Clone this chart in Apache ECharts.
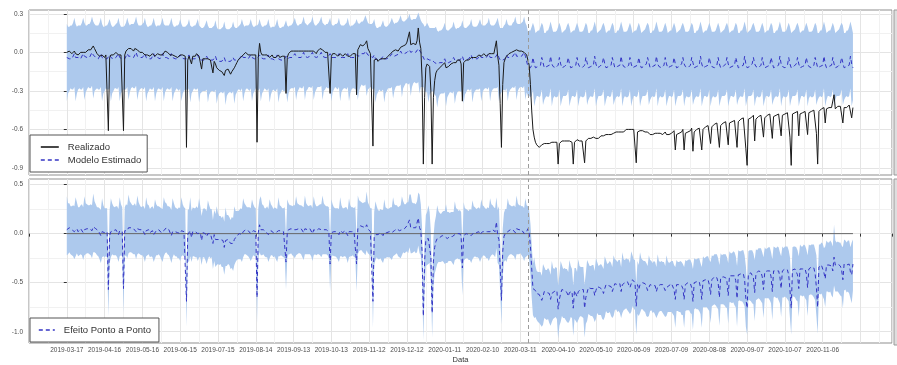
<!DOCTYPE html>
<html>
<head>
<meta charset="utf-8">
<script src="https://cdn.jsdelivr.net/npm/echarts@6/dist/echarts.min.js"></script>
<style>
  html, body { margin: 0; background: #fff; }
  #grafico { width: 897px; height: 365px; }
</style>
</head>
<body>
<div id="grafico"></div>
<script>
// dia 0 = 2019-03-17, um valor por dia; valores em centesimos
const rotulosData = ['2019-03-17', '2019-04-16', '2019-05-16', '2019-06-15', '2019-07-15', '2019-08-14',
  '2019-09-13', '2019-10-13', '2019-11-12', '2019-12-12', '2020-01-11', '2020-02-10', '2020-03-11',
  '2020-04-10', '2020-05-10', '2020-06-09', '2020-07-09', '2020-08-08', '2020-09-07', '2020-10-07', '2020-11-06']

const intervencao = 366

const realizado = [
  0, -1, 1, 0, -1, 0, 1,
  -1, 0, -2, -1, 0, 1, 0,
  1, 0, 1, 2, 1, 2, 3,
  5, 3, 1, -1, -2, -3, -3,
  -2, -3, -4, -2, -3, -61, -4,
  -2, -1, -2, -1, 0, -1, -2,
  -1, -2, -3, -61, -2, 1, 2,
  3, 2, 3, 2, 1, 3, 2,
  2, 1, 0, -1, 0, -1, -2,
  -1, -2, -1, -3, -2, -1, -2,
  -3, -2, -1, 0, -2, -3, -2,
  -1, 1, 2, 0, -1, -2, -3,
  -2, -1, -3, -2, -4, -3, -2,
  -1, -2, -3, -3, -74, -6, -3,
  -2, -9, -3, -2, -3, -1, -2,
  -3, -4, -13, -5, -4, -5, -6,
  -5, -4, -6, -5, -16, -7, -9,
  -12, -13, -14, -13, -15, -14, -18,
  -14, -15, -13, -14, -17, -15, -14,
  -12, -10, -8, -6, -5, -4, -3,
  -2, -1, 0, -1, -2, -3, -2,
  -3, -2, -3, -2, -70, -4, 7,
  0, -2, -1, -2, -3, -2, -3,
  -4, -3, -2, -4, -3, -4, -3,
  -2, -4, -3, -3, -4, -3, -32,
  -4, -1, 0, 1, 0, 1, 2,
  1, 0, 1, 2, 1, 0, 1,
  2, 1, 0, 1, 2, 1, 0,
  1, 0, -1, 1, 2, 3, 4,
  2, 1, 0, 1, 0, -1, -32,
  -3, -1, -2, -1, -2, -3, -2,
  -1, -2, -3, -2, -1, -2, -3,
  -2, -3, -2, -1, -2, -1, -33,
  2, 4, 6, 7, 5, 6, 7,
  9, 3, 1, -1, -2, -73, -6,
  -6, -5, -7, -6, -5, -6, -5,
  -4, -5, -4, -3, -2, -1, 0,
  1, 0, 2, 3, 1, 2, 4,
  3, 5, 4, 6, 8, 7, 16,
  6, 5, 7, 8, 6, 9, 19,
  8, 3, -20, -87, -35, -12, -9,
  -10, -11, -30, -87, -35, -22, -16,
  -14, -13, -12, -12, -10, -9, -8,
  -12, -13, -11, -10, -9, -10, -8,
  -7, -8, -6, -7, -6, -9, -38,
  -8, -7, -6, -5, -6, -5, -4,
  -5, -4, -3, -4, -3, -2, -3,
  -3, -2, -1, -2, -3, -2, -1,
  -2, -1, 0, -1, -2, 9, -3,
  -10, -40, -74, -25, -8, -5, -3,
  -2, -1, 0, 0, 1, 1, 1,
  2, 1, 1, 2, 1, 0, 0,
  -1, -2, -6, -10, -25, -45, -60,
  -66, -70, -72, -73, -74, -73, -72,
  -72, -71, -72, -71, -70, -71, -70,
  -70, -71, -70, -69, -70, -87, -71,
  -70, -69, -70, -69, -70, -69, -68,
  -69, -70, -70, -87, -70, -69, -68,
  -68, -69, -68, -69, -69, -86, -69,
  -68, -67, -68, -67, -67, -66, -66,
  -67, -66, -67, -66, -65, -66, -65,
  -65, -64, -65, -64, -63, -64, -63,
  -63, -63, -62, -63, -62, -61, -62,
  -61, -62, -61, -60, -61, -60, -59,
  -60, -59, -60, -61, -86, -62, -61,
  -61, -62, -61, -62, -62, -63, -62,
  -63, -64, -63, -64, -63, -63, -62,
  -63, -64, -63, -63, -64, -63, -62,
  -64, -65, -64, -63, -63, -62, -61,
  -76, -64, -63, -63, -62, -62, -60,
  -76, -63, -62, -62, -61, -61, -59,
  -77, -62, -61, -60, -60, -59, -58,
  -76, -60, -59, -58, -58, -57, -56,
  -71, -58, -57, -56, -56, -55, -54,
  -74, -57, -56, -55, -55, -54, -53,
  -72, -55, -54, -54, -53, -53, -52,
  -74, -54, -53, -52, -52, -51, -50,
  -75, -88, -52, -51, -51, -50, -49,
  -69, -52, -51, -50, -50, -49, -48,
  -66, -51, -50, -49, -49, -48, -48,
  -67, -50, -49, -49, -48, -48, -47,
  -65, -49, -49, -48, -48, -47, -46,
  -66, -88, -48, -47, -47, -47, -46,
  -65, -48, -47, -47, -46, -46, -45,
  -64, -47, -46, -46, -46, -45, -45,
  -63, -87, -46, -45, -44, -44, -43,
  -55, -44, -43, -43, -42, -43, -42,
  -33, -44, -43, -42, -43, -42, -41,
  -55, -43, -42, -43, -42, -41, -42,
  -51, -43
]

const estimado = [
  -4, -5, -5, -4, -5, -4, -1,
  -4, -5, -4, -4, -5, -4, -1,
  -3, -4, -4, -3, -4, -3, 0,
  -2, -3, -4, -4, -5, -4, -1,
  -4, -5, -5, -4, -5, -4, -2,
  -4, -5, -5, -4, -4, -4, -1,
  -4, -5, -5, -5, -5, -4, -1,
  -3, -4, -3, -3, -4, -3, 0,
  -3, -4, -4, -4, -4, -4, -1,
  -4, -5, -5, -4, -5, -4, -1,
  -4, -5, -4, -4, -5, -4, -1,
  -4, -4, -4, -4, -5, -4, -1,
  -4, -5, -5, -4, -5, -5, -2,
  -4, -5, -5, -5, -5, -5, -2,
  -5, -5, -5, -4, -5, -4, -2,
  -5, -5, -6, -6, -6, -5, -3,
  -5, -6, -6, -6, -6, -6, -3,
  -6, -7, -7, -7, -7, -7, -4,
  -7, -7, -7, -7, -7, -7, -4,
  -6, -6, -6, -5, -5, -5, -2,
  -4, -5, -4, -4, -5, -5, -2,
  -4, -5, -5, -4, -5, -5, -2,
  -4, -5, -5, -4, -5, -5, -2,
  -5, -6, -5, -5, -6, -5, -2,
  -5, -6, -6, -5, -6, -5, -3,
  -5, -5, -4, -4, -4, -3, -1,
  -3, -4, -4, -3, -4, -3, 0,
  -3, -3, -4, -3, -3, -3, 0,
  -3, -4, -4, -3, -3, -2, 0,
  -3, -3, -4, -3, -4, -3, -1,
  -4, -4, -4, -3, -4, -4, -1,
  -4, -4, -4, -4, -4, -4, -1,
  -4, -5, -4, -4, -4, -4, -2,
  -3, -3, -2, -1, -2, -1, 1,
  0, -2, -3, -3, -4, -4, -2,
  -5, -6, -6, -5, -6, -5, -3,
  -5, -5, -5, -4, -4, -3, -1,
  -2, -3, -2, -2, -2, -1, 1,
  -1, -1, -1, 0, 0, 0, 2,
  0, 0, 1, 1, 0, 1, 3,
  2, 0, -2, -3, -6, -6, -5,
  -5, -6, -6, -6, -7, -8, -8,
  -9, -9, -8, -8, -8, -7, -5,
  -8, -8, -8, -7, -7, -7, -4,
  -6, -7, -6, -6, -6, -6, -3,
  -6, -6, -6, -5, -5, -5, -2,
  -5, -5, -5, -5, -5, -4, -2,
  -4, -4, -4, -4, -4, -4, -1,
  -4, -4, -4, -4, -4, -3, -1,
  -4, -6, -6, -6, -5, -5, -2,
  -4, -4, -4, -4, -3, -3, 0,
  -3, -3, -3, -3, -3, -3, 0,
  -3, -4, -11, -11, -12, -10, -4,
  -9, -12, -11, -11, -12, -10, -4,
  -8, -12, -12, -11, -12, -10, -3,
  -9, -11, -11, -12, -12, -10, -4,
  -9, -12, -11, -11, -11, -9, -4,
  -9, -12, -11, -11, -12, -10, -4,
  -9, -11, -11, -12, -12, -10, -4,
  -8, -12, -12, -11, -12, -10, -3,
  -9, -12, -11, -11, -11, -9, -4,
  -9, -12, -11, -11, -12, -10, -4,
  -8, -12, -12, -11, -12, -10, -3,
  -9, -11, -11, -12, -12, -10, -4,
  -9, -12, -11, -11, -12, -10, -4,
  -9, -12, -11, -11, -11, -9, -4,
  -8, -12, -12, -11, -12, -10, -3,
  -9, -11, -11, -12, -12, -10, -4,
  -9, -12, -11, -11, -12, -10, -4,
  -9, -12, -11, -11, -11, -9, -4,
  -9, -11, -11, -12, -12, -10, -4,
  -8, -12, -12, -11, -12, -10, -3,
  -9, -12, -11, -11, -12, -10, -4,
  -9, -11, -11, -12, -12, -10, -4,
  -9, -12, -11, -11, -11, -9, -4,
  -9, -12, -11, -11, -12, -10, -4,
  -8, -12, -12, -11, -12, -10, -3,
  -9, -12, -11, -11, -11, -9, -4,
  -9, -11, -11, -12, -12, -10, -4,
  -9, -12, -11, -11, -12, -10, -4,
  -8, -12, -12, -11, -12, -10, -3,
  -9, -11, -11, -12, -12, -10, -4,
  -9, -12, -11, -11, -11, -9, -4,
  -9, -12, -11, -11, -12, -10, -4,
  -9, -11, -11, -12, -12, -10, -4,
  -8, -12, -12, -11, -12, -10, -3,
  -9, -12, -11, -11, -12, -10, -4,
  -9, -12, -11, -11, -11, -9, -4,
  -8, -12, -12, -11, -12, -10, -3,
  -9, -12
]

const limiteSuperior = [
  22, 20, 20, 21, 21, 23, 27,
  22, 20, 21, 21, 21, 23, 27,
  23, 21, 21, 22, 22, 24, 28,
  24, 22, 21, 21, 21, 23, 27,
  22, 20, 20, 21, 21, 23, 26,
  22, 20, 20, 21, 22, 23, 27,
  22, 20, 20, 20, 21, 23, 27,
  23, 21, 22, 22, 22, 24, 28,
  23, 21, 21, 21, 22, 23, 27,
  22, 20, 20, 21, 21, 23, 27,
  22, 20, 21, 21, 21, 23, 27,
  22, 21, 21, 21, 21, 23, 27,
  22, 20, 20, 21, 21, 22, 26,
  22, 20, 20, 20, 21, 22, 26,
  21, 20, 20, 21, 21, 23, 26,
  21, 20, 19, 19, 20, 22, 25,
  21, 19, 19, 19, 20, 21, 25,
  20, 18, 18, 18, 19, 20, 24,
  19, 18, 18, 18, 19, 20, 24,
  20, 19, 19, 20, 21, 22, 26,
  22, 20, 21, 21, 21, 22, 26,
  22, 20, 20, 21, 21, 22, 26,
  22, 20, 20, 21, 21, 22, 26,
  21, 19, 20, 20, 20, 22, 26,
  21, 19, 19, 20, 20, 22, 25,
  21, 20, 21, 21, 22, 24, 27,
  23, 21, 21, 22, 22, 24, 28,
  23, 22, 21, 22, 23, 24, 28,
  23, 21, 21, 22, 23, 25, 28,
  23, 22, 21, 22, 22, 24, 27,
  22, 21, 21, 22, 22, 23, 27,
  22, 21, 21, 21, 22, 23, 27,
  22, 20, 21, 21, 22, 23, 26,
  23, 22, 23, 24, 24, 26, 29,
  26, 23, 22, 22, 22, 23, 26,
  21, 19, 19, 20, 20, 22, 25,
  21, 20, 20, 21, 22, 24, 27,
  24, 22, 23, 23, 24, 26, 29,
  25, 24, 24, 25, 26, 27, 30,
  26, 25, 26, 26, 26, 28, 31,
  28, 25, 23, 22, 20, 21, 23,
  21, 19, 19, 19, 19, 19, 20,
  17, 16, 17, 17, 18, 20, 23,
  18, 17, 17, 18, 19, 20, 24,
  20, 18, 19, 19, 20, 21, 25,
  20, 19, 19, 20, 21, 22, 26,
  21, 20, 20, 20, 21, 23, 26,
  22, 21, 21, 21, 22, 23, 27,
  22, 21, 21, 21, 22, 24, 27,
  22, 19, 19, 19, 21, 22, 26,
  22, 21, 21, 21, 23, 24, 28,
  23, 22, 22, 22, 23, 24, 28,
  23, 21, 16, 17, 17, 20, 23,
  20, 15, 16, 17, 17, 20, 23,
  21, 15, 15, 17, 17, 20, 24,
  20, 16, 16, 16, 17, 20, 23,
  20, 15, 16, 17, 18, 21, 23,
  20, 15, 16, 17, 17, 20, 23,
  20, 16, 16, 16, 17, 20, 23,
  21, 15, 15, 17, 17, 20, 24,
  20, 15, 16, 17, 18, 21, 23,
  20, 15, 16, 17, 17, 20, 23,
  21, 15, 15, 17, 17, 20, 24,
  20, 16, 16, 16, 17, 20, 23,
  20, 15, 16, 17, 17, 20, 23,
  20, 15, 16, 17, 18, 21, 23,
  21, 15, 15, 17, 17, 20, 24,
  20, 16, 16, 16, 17, 20, 23,
  20, 15, 16, 17, 17, 20, 23,
  20, 15, 16, 17, 18, 21, 23,
  20, 16, 16, 16, 17, 20, 23,
  21, 15, 15, 17, 17, 20, 24,
  20, 15, 16, 17, 17, 20, 23,
  20, 16, 16, 16, 17, 20, 23,
  20, 15, 16, 17, 18, 21, 23,
  20, 15, 16, 17, 17, 20, 23,
  21, 15, 15, 17, 17, 20, 24,
  20, 15, 16, 17, 18, 21, 23,
  20, 16, 16, 16, 17, 20, 23,
  20, 15, 16, 17, 17, 20, 23,
  21, 15, 15, 17, 17, 20, 24,
  20, 16, 16, 16, 17, 20, 23,
  20, 15, 16, 17, 18, 21, 23,
  20, 15, 16, 17, 17, 20, 23,
  20, 16, 16, 16, 17, 20, 23,
  21, 15, 15, 17, 17, 20, 24,
  20, 15, 16, 17, 17, 20, 23,
  20, 15, 16, 17, 18, 21, 23,
  21, 15, 15, 17, 17, 20, 24,
  20, 15
]

const limiteInferior = [
  -38, -32, -30, -28, -29, -29, -27,
  -38, -32, -29, -28, -29, -29, -27,
  -37, -31, -29, -27, -28, -28, -26,
  -36, -30, -29, -28, -29, -29, -27,
  -38, -32, -30, -28, -29, -29, -28,
  -38, -32, -30, -28, -28, -29, -27,
  -38, -32, -30, -29, -29, -29, -27,
  -37, -31, -28, -27, -28, -28, -26,
  -37, -31, -29, -28, -28, -29, -27,
  -38, -32, -30, -28, -29, -29, -27,
  -38, -32, -29, -28, -29, -29, -27,
  -38, -31, -29, -28, -29, -29, -27,
  -38, -32, -30, -28, -29, -30, -28,
  -38, -32, -30, -29, -29, -30, -28,
  -39, -32, -30, -28, -29, -29, -28,
  -39, -32, -31, -30, -30, -30, -29,
  -39, -33, -31, -30, -30, -31, -29,
  -40, -34, -32, -31, -31, -32, -30,
  -41, -34, -32, -31, -31, -32, -30,
  -40, -33, -31, -29, -29, -30, -28,
  -38, -32, -29, -28, -29, -30, -28,
  -38, -32, -30, -28, -29, -30, -28,
  -38, -32, -30, -28, -29, -30, -28,
  -39, -33, -30, -29, -30, -30, -28,
  -39, -33, -31, -29, -30, -30, -29,
  -39, -32, -29, -28, -28, -28, -27,
  -37, -31, -29, -27, -28, -28, -26,
  -37, -30, -29, -27, -27, -28, -26,
  -37, -31, -29, -27, -27, -27, -26,
  -37, -30, -29, -27, -28, -28, -27,
  -38, -31, -29, -27, -28, -29, -27,
  -38, -31, -29, -28, -28, -29, -27,
  -38, -32, -29, -28, -28, -29, -28,
  -37, -30, -27, -25, -26, -26, -25,
  -34, -29, -28, -27, -28, -29, -28,
  -39, -33, -31, -29, -30, -30, -29,
  -39, -32, -30, -28, -28, -28, -27,
  -36, -30, -27, -26, -26, -26, -25,
  -35, -28, -26, -24, -24, -25, -24,
  -34, -27, -24, -23, -24, -24, -23,
  -32, -27, -27, -27, -30, -31, -31,
  -39, -33, -31, -30, -31, -33, -34,
  -43, -36, -33, -32, -32, -32, -31,
  -42, -35, -33, -31, -31, -32, -30,
  -40, -34, -31, -30, -30, -31, -29,
  -40, -33, -31, -29, -29, -30, -28,
  -39, -32, -30, -29, -29, -29, -28,
  -38, -31, -29, -28, -28, -29, -27,
  -38, -31, -29, -28, -28, -28, -27,
  -38, -33, -31, -30, -29, -30, -28,
  -38, -31, -29, -28, -27, -28, -26,
  -37, -30, -28, -27, -27, -28, -26,
  -37, -31, -34, -34, -35, -34, -29,
  -42, -37, -34, -34, -35, -34, -29,
  -41, -37, -35, -34, -35, -34, -28,
  -42, -36, -34, -35, -35, -34, -29,
  -42, -37, -34, -34, -34, -33, -29,
  -42, -37, -34, -34, -35, -34, -29,
  -42, -36, -34, -35, -35, -34, -29,
  -41, -37, -35, -34, -35, -34, -28,
  -42, -37, -34, -34, -34, -33, -29,
  -42, -37, -34, -34, -35, -34, -29,
  -41, -37, -35, -34, -35, -34, -28,
  -42, -36, -34, -35, -35, -34, -29,
  -42, -37, -34, -34, -35, -34, -29,
  -42, -37, -34, -34, -34, -33, -29,
  -41, -37, -35, -34, -35, -34, -28,
  -42, -36, -34, -35, -35, -34, -29,
  -42, -37, -34, -34, -35, -34, -29,
  -42, -37, -34, -34, -34, -33, -29,
  -42, -36, -34, -35, -35, -34, -29,
  -41, -37, -35, -34, -35, -34, -28,
  -42, -37, -34, -34, -35, -34, -29,
  -42, -36, -34, -35, -35, -34, -29,
  -42, -37, -34, -34, -34, -33, -29,
  -42, -37, -34, -34, -35, -34, -29,
  -41, -37, -35, -34, -35, -34, -28,
  -42, -37, -34, -34, -34, -33, -29,
  -42, -36, -34, -35, -35, -34, -29,
  -42, -37, -34, -34, -35, -34, -29,
  -41, -37, -35, -34, -35, -34, -28,
  -42, -36, -34, -35, -35, -34, -29,
  -42, -37, -34, -34, -34, -33, -29,
  -42, -37, -34, -34, -35, -34, -29,
  -42, -36, -34, -35, -35, -34, -29,
  -41, -37, -35, -34, -35, -34, -28,
  -42, -37, -34, -34, -35, -34, -29,
  -42, -37, -34, -34, -34, -33, -29,
  -41, -37, -35, -34, -35, -34, -28,
  -42, -37
]

const ticksTopo = [-0.9, -0.6, -0.3, 0, 0.3]
const ticksTopoMenores = [-0.75, -0.45, -0.15, 0.15]
const ticksBase = [-1, -0.5, 0, 0.5]
const ticksBaseMenores = [-0.75, -0.25, 0.25]

const corFaixa = '#adc9ed'
const corAzul = '#3434c4'
const grade = '#e4e4e4'
const gradeMenor = '#f1f1f1'
const fonte = 'Liberation Sans'

// pares [dia, valor]
const serie = vals => vals.map((v, i) => [i, v / 100])
const efeito = realizado.map((v, i) => v - estimado[i])
const efeitoInf = realizado.map((v, i) => v - limiteSuperior[i])
const efeitoSup = realizado.map((v, i) => v - limiteInferior[i])
const ultimoDia = realizado.length - 1

// faixa de confianca: um poligono pelas coordenadas do proprio eixo
function faixa(xIdx, yIdx, inf, sup) {
  return {
    type: 'custom',
    xAxisIndex: xIdx,
    yAxisIndex: yIdx,
    silent: true,
    z: 1,
    data: [[0, 0]],
    renderItem: function(params, api) {
      const pts = []
      for (let i = 0; i < sup.length; i++) pts.push(api.coord([i, sup[i] / 100]))
      for (let i = inf.length - 1; i >= 0; i--) pts.push(api.coord([i, inf[i] / 100]))
      return { type: 'polygon', shape: { points: pts }, style: { fill: corFaixa } }
    }
  }
}

function eixoX(gridIndex, comRotulos) {
  return {
    type: 'value',
    gridIndex: gridIndex,
    min: -30,
    max: 655,
    interval: 30,
    axisLine: { show: false },
    axisTick: { show: comRotulos, length: 3, lineStyle: { color: '#333' } },
    axisLabel: {
      show: comRotulos,
      interval: 0,
      fontSize: 6.5,
      color: '#4d4d4d',
      fontFamily: fonte,
      margin: 4,
      formatter: function(v) {
        const i = Math.round(v / 30)
        return v >= 0 && v % 30 === 0 && i < rotulosData.length ? rotulosData[i] : ''
      }
    },
    splitLine: { show: true, lineStyle: { color: grade, width: 1 } },
    minorTick: { show: false, splitNumber: 2 },
    minorSplitLine: { show: true, lineStyle: { color: gradeMenor, width: 1 } },
    name: comRotulos ? 'Data' : '',
    nameLocation: 'middle',
    nameGap: 13,
    nameTextStyle: { fontSize: 7.5, color: '#333', fontFamily: fonte }
  }
}

function eixoY(gridIndex, min, max, valores) {
  return {
    type: 'value',
    gridIndex: gridIndex,
    min: min,
    max: max,
    axisLine: { show: false },
    axisTick: { show: true, length: 3, customValues: valores, lineStyle: { color: '#333' } },
    axisLabel: {
      customValues: valores,
      fontSize: 6.5,
      color: '#4d4d4d',
      fontFamily: fonte,
      margin: 6,
      formatter: v => v.toFixed(1)
    },
    splitLine: { show: true, lineStyle: { color: grade, width: 1 } }
  }
}

function eixoYMenor(gridIndex, min, max, valores) {
  return {
    type: 'value',
    gridIndex: gridIndex,
    min: min,
    max: max,
    position: 'left',
    axisLine: { show: false },
    axisTick: { show: false, customValues: valores },
    axisLabel: { show: false },
    splitLine: { show: true, lineStyle: { color: gradeMenor, width: 1 } }
  }
}

const linhaIntervencao = {
  silent: true,
  symbol: ['none', 'none'],
  label: { show: false },
  lineStyle: { color: '#9c9c9c', type: [4, 3], width: 1 },
  data: [{ xAxis: intervencao }]
}

const legendaBase = {
  orient: 'vertical',
  left: 30,
  itemHeight: 12,
  itemGap: 3,
  borderColor: '#555',
  borderWidth: 1,
  backgroundColor: '#fff',
  itemStyle: { opacity: 0 },
  lineStyle: { width: 1.6 },
  textStyle: { fontSize: 9.5, color: '#333', fontFamily: fonte, padding: [0, 0, 0, 4] }
}

const chart = echarts.init(document.getElementById('grafico'))
chart.setOption({
  animation: false,
  textStyle: { fontFamily: fonte },
  grid: [
    { left: 29, top: 10, width: 863, height: 165, show: true, borderColor: '#8f8f8f', borderWidth: 1 },
    { left: 29, top: 179, width: 863, height: 166, show: true, borderColor: '#8f8f8f', borderWidth: 1 }
  ],
  xAxis: [eixoX(0, false), eixoX(1, true)],
  yAxis: [
    eixoY(0, -0.955, 0.33, ticksTopo),
    eixoYMenor(0, -0.955, 0.33, ticksTopoMenores),
    eixoY(1, -1.115, 0.557, ticksBase),
    eixoYMenor(1, -1.115, 0.557, ticksBaseMenores)
  ],
  legend: [
    Object.assign({}, legendaBase, {
      data: ['Realizado', 'Modelo Estimado'],
      top: 135,
      itemWidth: 18,
      padding: [7, 6, 7, 10]
    }),
    Object.assign({}, legendaBase, {
      data: ['Efeito Ponto a Ponto'],
      top: 318,
      itemWidth: 16,
      padding: [7, 8, 7, 8]
    })
  ],
  graphic: [
    { type: 'rect', shape: { x: 894, y: 10, width: 10, height: 165 }, style: { fill: '#dedede', stroke: '#9a9a9a', lineWidth: 1 } },
    { type: 'rect', shape: { x: 894, y: 179, width: 10, height: 166 }, style: { fill: '#dedede', stroke: '#9a9a9a', lineWidth: 1 } }
  ],
  series: [
    faixa(0, 0, limiteInferior, limiteSuperior),
    {
      name: 'Modelo Estimado', type: 'line', xAxisIndex: 0, yAxisIndex: 0, symbol: 'none', z: 3,
      color: corAzul, lineStyle: { color: corAzul, width: 1, type: [4, 3] }, data: serie(estimado)
    },
    {
      name: 'Realizado', type: 'line', xAxisIndex: 0, yAxisIndex: 0, symbol: 'none', z: 4,
      color: '#1a1a1a', lineStyle: { color: '#1a1a1a', width: 1 }, data: serie(realizado),
      markLine: linhaIntervencao
    },
    faixa(1, 2, efeitoInf, efeitoSup),
    {
      name: 'zero', type: 'line', xAxisIndex: 1, yAxisIndex: 2, symbol: 'none', silent: true, z: 2,
      lineStyle: { color: '#666', width: 1 }, data: [[0, 0], [ultimoDia, 0]],
      markLine: linhaIntervencao
    },
    {
      name: 'Efeito Ponto a Ponto', type: 'line', xAxisIndex: 1, yAxisIndex: 2, symbol: 'none', z: 3,
      color: corAzul, lineStyle: { color: corAzul, width: 1, type: [4, 3] }, data: serie(efeito)
    }
  ]
})
</script>
</body>
</html>
